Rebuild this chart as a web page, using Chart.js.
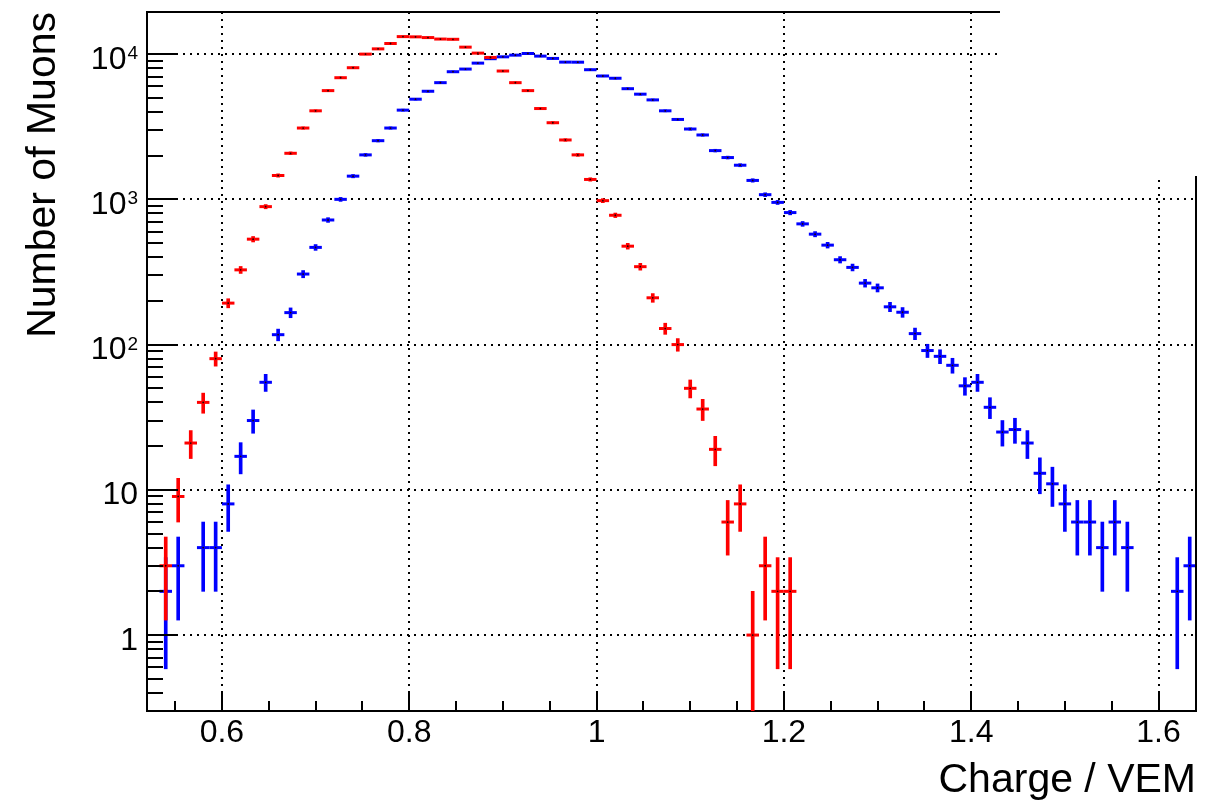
<!DOCTYPE html>
<html>
<head>
<meta charset="utf-8">
<title>Number of Muons vs Charge / VEM</title>
<script src="https://cdn.jsdelivr.net/npm/chart.js@4/dist/chart.umd.min.js"></script>
<style>
  html, body { margin: 0; padding: 0; background: #fff; }
  #wrap { width: 1228px; height: 803px; position: relative; }
</style>
</head>
<body>
<div id="wrap"><canvas id="muonChart"></canvas></div>
<script>
// histogram bin centres (Charge / VEM)
const binCenters = [
  0.5267, 0.54, 0.5533, 0.5667, 0.58, 0.5933, 0.6067, 0.62, 0.6333, 0.6467,
  0.66, 0.6733, 0.6867, 0.70, 0.7133, 0.7267, 0.74, 0.7533, 0.7667, 0.78,
  0.7933, 0.8067, 0.82, 0.8333, 0.8467, 0.86, 0.8733, 0.8867, 0.90, 0.9133,
  0.9267, 0.94, 0.9533, 0.9667, 0.98, 0.9933, 1.0067, 1.02, 1.0333, 1.0467,
  1.06, 1.0733, 1.0867, 1.10, 1.1133, 1.1267, 1.14, 1.1533, 1.1667, 1.18,
  1.1933, 1.2067, 1.22, 1.2333, 1.2467, 1.26, 1.2733, 1.2867, 1.30, 1.3133,
  1.3267, 1.34, 1.3533, 1.3667, 1.38, 1.3933, 1.4067, 1.42, 1.4333, 1.4467,
  1.46, 1.4733, 1.4867, 1.50, 1.5133, 1.5267, 1.54, 1.5533, 1.5667, 1.58,
  1.5933, 1.6067, 1.62, 1.6333,
];
const binWidth = 0.01333;

// red histogram
const redCounts = [
  0, 3, 9, 21, 40, 80, 193, 327, 532, 891,
  1460, 2076, 3098, 4070, 5606, 6880, 8060, 10000, 10870, 11830,
  13200, 13150, 13000, 12700, 12650, 11170, 10160, 9490, 7650, 6360,
  5606, 4220, 3370, 2564, 2024, 1371, 980, 777, 476, 344,
  210, 129, 100, 50, 36, 19, 6, 8, 1, 3,
  2, 2, 0, 0, 0, 0, 0, 0, 0, 0,
  0, 0, 0, 0, 0, 0, 0, 0, 0, 0,
  0, 0, 0, 0, 0, 0, 0, 0, 0, 0,
  0, 0, 0, 0,
];

// blue histogram
const blueCounts = [
  0, 2, 3, 0, 4, 4, 8, 17, 30, 55,
  117, 166, 306, 467, 721, 1000, 1445, 2024, 2535, 3098,
  4115, 4894, 5550, 6360, 7565, 7890, 8670, 9300, 9580, 9840,
  10100, 9690, 9340, 8810, 8800, 7810, 7070, 6820, 5780, 5300,
  4840, 4070, 3550, 3050, 2775, 2166, 1940, 1718, 1350, 1077,
  953, 811, 678, 576, 484, 384, 340, 265, 246, 182,
  167, 119, 91, 83, 72, 52, 55, 37, 25, 26,
  21, 13, 11, 8, 6, 6, 4, 6, 4, 0,
  0, 0, 2, 3,
];

const xMajorTicks = [0.6, 0.8, 1.0, 1.2, 1.4, 1.6];
const xTickLabels = ["0.6", "0.8", "1", "1.2", "1.4", "1.6"];
const xMinorTicks = [0.55, 0.65, 0.7, 0.75, 0.85, 0.9, 0.95, 1.05, 1.1, 1.15,
  1.25, 1.3, 1.35, 1.45, 1.5, 1.55];
const yMajorTicks = [1, 10, 100, 1000, 10000];
const yTickLabels = [["1", ""], ["10", ""], ["10", "2"], ["10", "3"], ["10", "4"]];
const yMinorTicks = [0.3, 0.4, 0.5, 0.6, 0.7, 0.8, 0.9,
  2, 3, 4, 5, 6, 7, 8, 9, 20, 30, 40, 50, 60, 70, 80, 90,
  200, 300, 400, 500, 600, 700, 800, 900,
  2000, 3000, 4000, 5000, 6000, 7000, 8000, 9000];

const FONT = "'Liberation Sans', Arial, Helvetica, sans-serif";

function points(counts) {
  return binCenters
    .map((x, i) => ({ x: x, y: counts[i] }))
    .filter((p) => p.y > 0);
}
function errors(counts) {
  return binCenters
    .map((x, i) => {
      const n = counts[i];
      const e = Math.sqrt(n);
      return { x: x, y: [Math.max(n - e, 0.01), n + e] };
    })
    .filter((p, i) => counts[i] > 0);
}
// half bin width in pixels
function halfBin(ctx) {
  const s = ctx.chart.scales.x;
  return (s.getPixelForValue(binCenters[0] + binWidth) - s.getPixelForValue(binCenters[0])) / 2;
}

function seriesSets(counts, color) {
  return [
    {
      type: "scatter",
      data: points(counts),
      pointStyle: "circle",
      pointRadius: 0.9,
      pointBackgroundColor: "#200",
      pointBorderWidth: 0,
    },
    {
      type: "scatter",
      data: points(counts),
      pointStyle: "line",
      pointRadius: halfBin,
      pointBorderColor: color,
      pointBorderWidth: 3,
    },
    {
      type: "bar",
      data: errors(counts),
      backgroundColor: color,
      borderWidth: 0,
      barThickness: 3,
      grouped: false,
    },
  ];
}

const frameDecor = {
  id: "frameDecor",
  afterDraw(chart) {
    const { ctx, chartArea: area } = chart;
    const xs = chart.scales.x;
    const ys = chart.scales.y;
    ctx.save();
    // blank box over the top-right corner, like in the original figure
    ctx.fillStyle = "#fff";
    ctx.fillRect(1000, 0, chart.width - 1000, 176);

    ctx.strokeStyle = "#000";
    ctx.lineWidth = 2;
    ctx.beginPath();
    ctx.moveTo(area.left, area.top);
    ctx.lineTo(1000, area.top);
    ctx.moveTo(area.right, 176);
    ctx.lineTo(area.right, area.bottom + 1);
    // inward ticks
    xMajorTicks.forEach((v) => {
      const p = Math.round(xs.getPixelForValue(v));
      ctx.moveTo(p, area.bottom);
      ctx.lineTo(p, area.bottom - 19);
    });
    xMinorTicks.forEach((v) => {
      const p = Math.round(xs.getPixelForValue(v));
      ctx.moveTo(p, area.bottom);
      ctx.lineTo(p, area.bottom - 10);
    });
    yMajorTicks.forEach((v) => {
      const p = Math.round(ys.getPixelForValue(v));
      ctx.moveTo(area.left, p);
      ctx.lineTo(area.left + 31, p);
    });
    yMinorTicks.forEach((v) => {
      const p = Math.round(ys.getPixelForValue(v));
      ctx.moveTo(area.left, p);
      ctx.lineTo(area.left + 16, p);
    });
    ctx.stroke();

    // y labels with superscript exponents
    ctx.fillStyle = "#000";
    ctx.textBaseline = "alphabetic";
    ctx.textAlign = "left";
    yMajorTicks.forEach((v, i) => {
      const [base, exp] = yTickLabels[i];
      const p = ys.getPixelForValue(v);
      ctx.font = "32px " + FONT;
      const wb = ctx.measureText(base).width;
      ctx.font = "19px " + FONT;
      const we = exp ? ctx.measureText(exp).width + 1 : 0;
      const x0 = area.left - 9 - we - wb;
      ctx.font = "32px " + FONT;
      ctx.fillText(base, x0, p + 14.5);
      if (exp) {
        ctx.font = "19px " + FONT;
        ctx.fillText(exp, x0 + wb + 1, p + 5);
      }
    });
    ctx.restore();
  },
};

const ctx = document.getElementById("muonChart").getContext("2d");
const muonChart = new Chart(ctx, {
  type: "scatter",
  data: {
    datasets: [
      ...seriesSets(redCounts, "#ff0000"),
      ...seriesSets(blueCounts, "#0000ff"),
    ],
  },
  options: {
    responsive: true,
    maintainAspectRatio: false,
    animation: false,
    events: [],
    layout: { padding: { top: 12, right: 32, left: 0, bottom: 0 } },
    plugins: {
      legend: { display: false },
      tooltip: { enabled: false },
    },
    scales: {
      x: {
        type: "linear",
        min: 0.52,
        max: 1.64,
        offset: false,
        afterBuildTicks: (scale) => {
          scale.ticks = xMajorTicks.map((v) => ({ value: v }));
        },
        afterFit: (scale) => {
          scale.height = 92;
        },
        ticks: {
          autoSkip: false,
          maxRotation: 0,
          padding: 3,
          color: "#000",
          font: { family: FONT, size: 32 },
          callback: (value, index) => xTickLabels[index],
        },
        grid: { color: "#000", lineWidth: 2, drawTicks: false, offset: false },
        border: { display: true, color: "#000", width: 2, dash: [2, 5] },
        title: {
          display: true,
          text: "Charge / VEM",
          align: "end",
          color: "#000",
          font: { family: FONT, size: 41, lineHeight: 1 },
          padding: { top: 0, bottom: 2 },
        },
      },
      y: {
        type: "logarithmic",
        min: 0.3,
        max: 19500,
        afterBuildTicks: (scale) => {
          scale.ticks = yMajorTicks.map((v) => ({ value: v }));
        },
        afterFit: (scale) => {
          scale.width = 147;
        },
        ticks: { display: false },
        grid: { color: "#000", lineWidth: 2, drawTicks: false },
        border: { display: true, color: "#000", width: 2, dash: [2, 5] },
        title: {
          display: true,
          text: "Number of Muons",
          align: "end",
          color: "#000",
          font: { family: FONT, size: 41, lineHeight: 1 },
          padding: { top: 23, bottom: 0 },
        },
      },
    },
  },
  plugins: [frameDecor],
});
</script>
</body>
</html>
